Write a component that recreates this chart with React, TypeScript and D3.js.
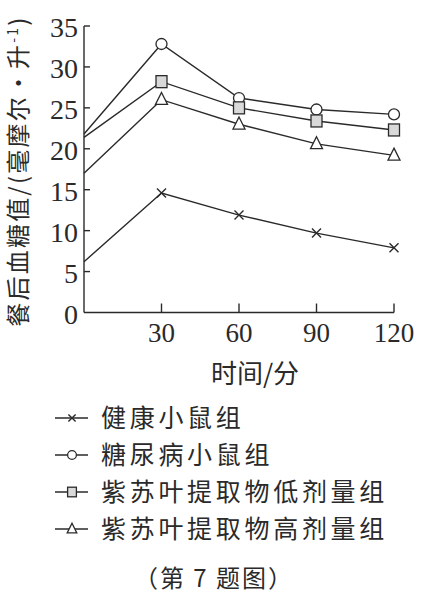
import { useEffect, useRef } from 'react';
import * as d3 from 'd3';

const times = [0, 30, 60, 90, 120];
const healthy = [6.2, 14.6, 11.9, 9.7, 7.9];
const diabetic = [21.8, 32.8, 26.2, 24.8, 24.2];
const lowDose = [21.4, 28.2, 25.0, 23.4, 22.3];
const highDose = [17.0, 26.0, 23.0, 20.6, 19.2];
const seriesNames = ['健康小鼠组', '糖尿病小鼠组', '紫苏叶提取物低剂量组', '紫苏叶提取物高剂量组'];
const seriesMarkers = ['cross', 'circle', 'square', 'triangle'];
const yTicks = [0, 5, 10, 15, 20, 25, 30, 35];
const xTicks = [30, 60, 90, 120];

const serif = '"Liberation Serif", "DejaVu Serif", serif';
const cjk = '"Noto Sans CJK SC", "Noto Sans", sans-serif';
const ink = '#2a2a2a';

type G = d3.Selection<SVGGElement, unknown, null, undefined>;

function drawMarker(g: G, kind: string, x: number, y: number, scale = 1) {
  if (kind === 'cross') {
    const s = 4.5 * scale;
    g.append('path')
      .attr('d', `M${x - s},${y - s}L${x + s},${y + s}M${x - s},${y + s}L${x + s},${y - s}`)
      .attr('stroke', ink)
      .attr('stroke-width', 1.4)
      .attr('fill', 'none');
  } else if (kind === 'circle') {
    g.append('circle')
      .attr('cx', x)
      .attr('cy', y)
      .attr('r', 5.5 * scale)
      .attr('fill', '#fff')
      .attr('stroke', ink)
      .attr('stroke-width', 1.3);
  } else if (kind === 'square') {
    const w = 11 * scale;
    const h = 12 * scale;
    g.append('rect')
      .attr('x', x - w / 2)
      .attr('y', y - h / 2)
      .attr('width', w)
      .attr('height', h)
      .attr('fill', '#d9d9d9')
      .attr('stroke', ink)
      .attr('stroke-width', 1.3);
  } else {
    const w = 12 * scale;
    const h = 12 * scale;
    g.append('path')
      .attr('d', `M${x},${y - h * 0.6}L${x + w / 2},${y + h * 0.4}L${x - w / 2},${y + h * 0.4}Z`)
      .attr('fill', '#fff')
      .attr('stroke', ink)
      .attr('stroke-width', 1.3);
  }
}

function App() {
  const svgRef = useRef<SVGSVGElement | null>(null);
  const width = 427;
  const height = 595;

  useEffect(() => {
    const svg = d3.select(svgRef.current);
    svg.selectAll('*').remove();
    svg.append('rect').attr('width', width).attr('height', height).attr('fill', '#fff');

    const x = d3.scaleLinear().domain([0, 120]).range([84, 394]);
    const y = d3.scaleLinear().domain([0, 35]).range([312.5, 26]);

    const axes = svg.append('g').attr('stroke', ink).attr('stroke-width', 1.4);
    axes.append('line').attr('x1', x(0)).attr('x2', x(0)).attr('y1', y(0)).attr('y2', y(35));
    axes.append('line').attr('x1', x(0)).attr('x2', x(120)).attr('y1', y(0)).attr('y2', y(0));
    yTicks.forEach((t) => {
      if (t === 0) return;
      axes.append('line').attr('x1', x(0)).attr('x2', x(0) + 6).attr('y1', y(t)).attr('y2', y(t));
    });
    xTicks.forEach((t) => {
      axes.append('line').attr('x1', x(t)).attr('x2', x(t)).attr('y1', y(0)).attr('y2', y(0) - 9);
    });

    svg
      .append('g')
      .selectAll('text')
      .data(yTicks)
      .enter()
      .append('text')
      .attr('x', x(0) - 6)
      .attr('y', (d) => y(d) + 11)
      .attr('text-anchor', 'end')
      .attr('font-family', serif)
      .attr('font-size', 28)
      .attr('fill', ink)
      .text((d) => d);

    svg
      .append('g')
      .selectAll('text')
      .data(xTicks)
      .enter()
      .append('text')
      .attr('x', (d) => x(d))
      .attr('y', y(0) + 29)
      .attr('text-anchor', 'middle')
      .attr('font-family', serif)
      .attr('font-size', 27)
      .attr('fill', ink)
      .text((d) => d);

    svg
      .append('text')
      .attr('x', 255)
      .attr('y', 383)
      .attr('text-anchor', 'middle')
      .attr('font-family', cjk)
      .attr('font-size', 26)
      .attr('fill', ink)
      .text('时间/分');

    const yTitle = svg
      .append('text')
      .attr('transform', 'translate(27,171) rotate(-90)')
      .attr('text-anchor', 'middle')
      .attr('font-family', cjk)
      .attr('font-size', 24)
      .attr('letter-spacing', 2.2)
      .attr('fill', ink);
    yTitle.append('tspan').text('餐后血糖值/(毫摩尔·升');
    yTitle.append('tspan').attr('font-size', 14).attr('dy', -9).text('-1');
    yTitle.append('tspan').attr('dy', 9).text(')');

    const allSeries = [healthy, diabetic, lowDose, highDose];
    const line = d3
      .line<number>()
      .x((_, i) => x(times[i]))
      .y((d) => y(d));

    const plot = svg.append('g');
    allSeries.forEach((values, si) => {
      plot
        .append('path')
        .attr('d', line(values))
        .attr('fill', 'none')
        .attr('stroke', ink)
        .attr('stroke-width', 1.4);
      const mg = plot.append('g') as G;
      values.forEach((v, i) => {
        if (times[i] === 0) return;
        drawMarker(mg, seriesMarkers[si], x(times[i]), y(v));
      });
    });

    const legend = svg.append('g');
    seriesNames.forEach((name, i) => {
      const cy = 418 + i * 37;
      legend
        .append('line')
        .attr('x1', 55)
        .attr('x2', 88)
        .attr('y1', cy)
        .attr('y2', cy)
        .attr('stroke', ink)
        .attr('stroke-width', 1.4);
      drawMarker(legend as G, seriesMarkers[i], 72, cy, 0.8);
      legend
        .append('text')
        .attr('x', 101)
        .attr('y', cy + 9)
        .attr('font-family', cjk)
        .attr('font-size', 25)
        .attr('letter-spacing', 3.7)
        .attr('fill', ink)
        .text(name);
    });

    svg
      .append('text')
      .attr('x', 214)
      .attr('y', 587)
      .attr('text-anchor', 'middle')
      .attr('font-family', cjk)
      .attr('font-size', 24)
      .attr('letter-spacing', 2)
      .attr('fill', ink)
      .text('（第 7 题图）');
  }, []);

  return <svg ref={svgRef} width={width} height={height} style={{ position: 'absolute', left: 0, top: 0 }} />;
}

export default App;
